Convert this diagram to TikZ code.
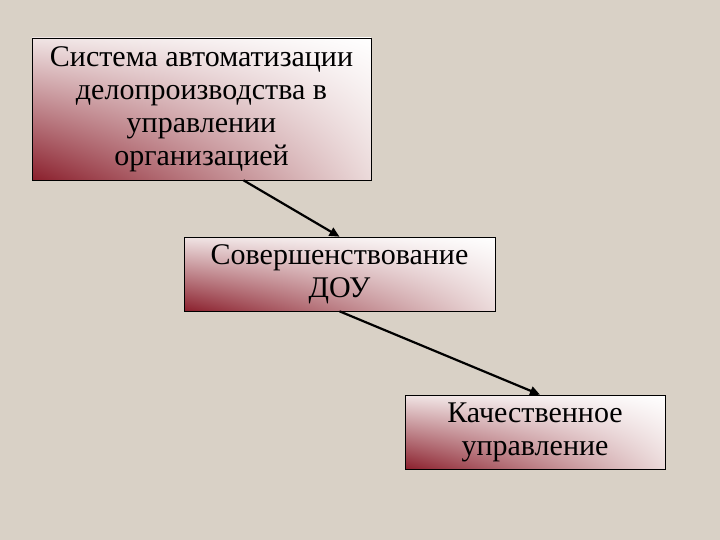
\documentclass[tikz,border=0pt]{standalone}
\usepackage{fontspec}
\setmainfont{Liberation Serif}
\usetikzlibrary{arrows.meta,shadings}
\definecolor{bg}{HTML}{D9D1C6}
\definecolor{dred}{HTML}{8A1F2C}
\definecolor{ul}{HTML}{F0E4E4}
\definecolor{lr}{HTML}{EBDADA}
\tikzset{
  box/.style={draw=black, line width=0.6pt, upper right=white, upper left=ul, lower right=lr, lower left=dred, align=center, font=\fontsize{30}{33}\selectfont, inner sep=0pt},
  conn/.style={line width=2.2pt, -{Triangle[length=10pt,width=9pt]}}
}
\begin{document}
\begin{tikzpicture}[x=1pt,y=-1pt]
\fill[bg] (0,0) rectangle (720,540);
\useasboundingbox (0,0) rectangle (720,540);
\node[box, minimum width=339pt, minimum height=142pt] (a) at (201.5,109) {Система автоматизации\\делопроизводства в\\управлении\\организацией};
\node[box, minimum width=311pt, minimum height=74pt] (b) at (339.5,274) {Совершенствование\\ДОУ};
\node[box, minimum width=260pt, minimum height=74pt] (c) at (535,432) {Качественное\\управление};
\draw[conn] ([xshift=42pt]a.south) -- (b.north);
\draw[conn] (b.south) -- ([xshift=5pt]c.north);
\end{tikzpicture}
\end{document}
